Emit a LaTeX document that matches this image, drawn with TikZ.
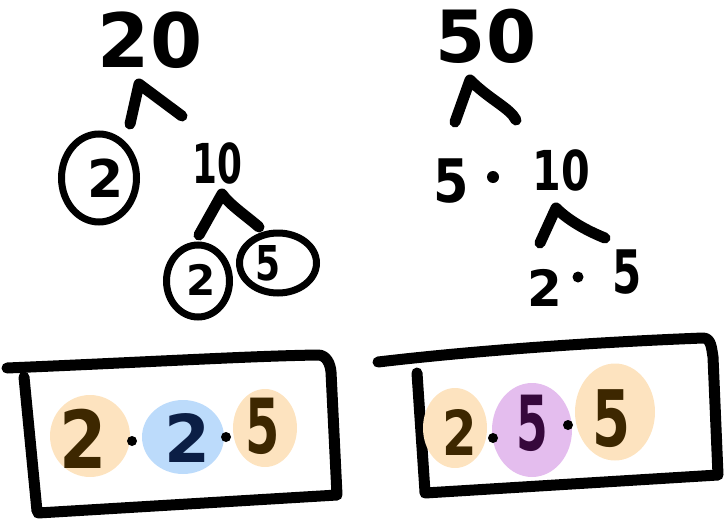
\documentclass[tikz,border=0pt]{standalone}
\usepackage{fontspec}
\usepackage{graphicx}
\setmainfont{DejaVu Sans}
\usetikzlibrary{shapes.geometric}
\definecolor{peach}{HTML}{FDE3BF}
\definecolor{skyb}{HTML}{BCDBFB}
\definecolor{lilac}{HTML}{E4BDEE}
\definecolor{brownd}{HTML}{3D2700}
\definecolor{navyd}{HTML}{0B1E45}
\definecolor{plumd}{HTML}{36083C}
\newcommand{\fs}[1]{\fontsize{#1}{#1}\selectfont\bfseries}
\tikzset{
  num/.style={inner sep=0pt, font=\fs{#1}},
  marker/.style={line width=11pt, line cap=round, line join=round},
  ring/.style={ellipse, draw, line width=7pt, inner sep=0pt},
  blob/.style={ellipse, fill=#1, inner sep=0pt},
  dotn/.style={circle, fill=black, inner sep=0pt, minimum size=#1},
  dotn/.default=10pt,
  frame/.style={line width=11pt, line cap=round, line join=round}
}
\begin{document}
\begin{tikzpicture}[x=1pt,y=-1pt]
\useasboundingbox (0,0) rectangle (725,522);
% ---------- left tree ----------
\node[num=75] (t20) at (150,40) {20};
\coordinate (l1a) at (130,124);
\coordinate (l1b) at (139,84);
\coordinate (l1c) at (182,116);
\draw[marker] (l1a) -- (l1b) -- (l1c);
\node[ring, minimum width=75pt, minimum height=88pt] (c2a) at (99,178) {};
\node[num=52] (n2a) at (106,178) {2};
\node[num=55] (t10) at (217,163) {\scalebox{0.65}[1]{10}};
\coordinate (l2a) at (199,235);
\coordinate (l2b) at (222,194);
\coordinate (l2c) at (259,227);
\draw[marker] (l2a) -- (l2b) .. controls (230,205) and (245,215) .. (l2c);
\node[ring, minimum width=63pt, minimum height=72pt] (c2b) at (198,281) {};
\node[num=42] (n2b) at (201,280) {2};
\node[ring, minimum width=77pt, minimum height=60pt] (c5a) at (278,263) {};
\node[num=48] (n5a) at (268,263) {\scalebox{0.75}[1]{5}};
% ---------- right tree ----------
\node[num=72] (t50) at (486,36) {50};
\coordinate (r1a) at (455,122);
\coordinate (r1b) at (470,80);
\coordinate (r1c) at (516,120);
\draw[marker] (r1a) -- (r1b) .. controls (490,100) and (510,108) .. (r1c);
\node[num=60] (n5b) at (451,181) {\scalebox{0.85}[1]{5}};
\node[dotn=12pt] (d1) at (493,177) {};
\node[num=55] (t10b) at (561,170) {\scalebox{0.75}[1]{10}};
\coordinate (r2a) at (540,243);
\coordinate (r2b) at (556,208);
\coordinate (r2c) at (605,238);
\draw[marker] (r2a) -- (r2b) .. controls (570,222) and (590,232) .. (r2c);
\node[num=50] (n2c) at (545,288) {2};
\node[dotn=11pt] (d2) at (578,277) {};
\node[num=60] (n5c) at (627,272) {\scalebox{0.7}[1]{5}};
% ---------- left box ----------
\draw[frame] (7,368) .. controls (150,362) and (250,356) .. (318,355)
  to[out=0,in=95] (331,372) -- (337,495) -- (38,513);
\draw[frame] (24,377) -- (37,511);
\node[blob=peach, minimum width=80pt, minimum height=82pt] (b1) at (90,436) {};
\node[blob=skyb, minimum width=82pt, minimum height=74pt] (b2) at (183,437) {};
\node[blob=peach, minimum width=64pt, minimum height=78pt] (b3) at (265,428) {};
\node[num=80, text=brownd] (m1) at (83,439) {\scalebox{0.85}[1]{2}};
\node[dotn] (d3) at (132,441) {};
\node[num=66, text=navyd] (m2) at (187,438) {2};
\node[dotn] (d4) at (226,437) {};
\node[num=76, text=brownd] (m3) at (263,426) {\scalebox{0.65}[1]{5}};
% ---------- right box ----------
\draw[frame] (378,362) .. controls (480,350) and (600,342) .. (703,338)
  to[out=0,in=100] (713,357) -- (718,475) -- (425,493);
\draw[frame] (417,373) -- (425,492);
\node[blob=peach, minimum width=64pt, minimum height=80pt] (b4) at (455,428) {};
\node[blob=lilac, minimum width=80pt, minimum height=94pt] (b5) at (532,430) {};
\node[blob=peach, minimum width=80pt, minimum height=97pt] (b6) at (615,412) {};
\node[num=62, text=brownd] (m4) at (460,432) {\scalebox{0.8}[1]{2}};
\node[dotn] (d5) at (493,438) {};
\node[num=76, text=plumd] (m5) at (532,423) {\scalebox{0.6}[1]{5}};
\node[dotn] (d6) at (568,425) {};
\node[num=78, text=brownd] (m6) at (611,419) {\scalebox{0.7}[1]{5}};
\end{tikzpicture}
\end{document}
